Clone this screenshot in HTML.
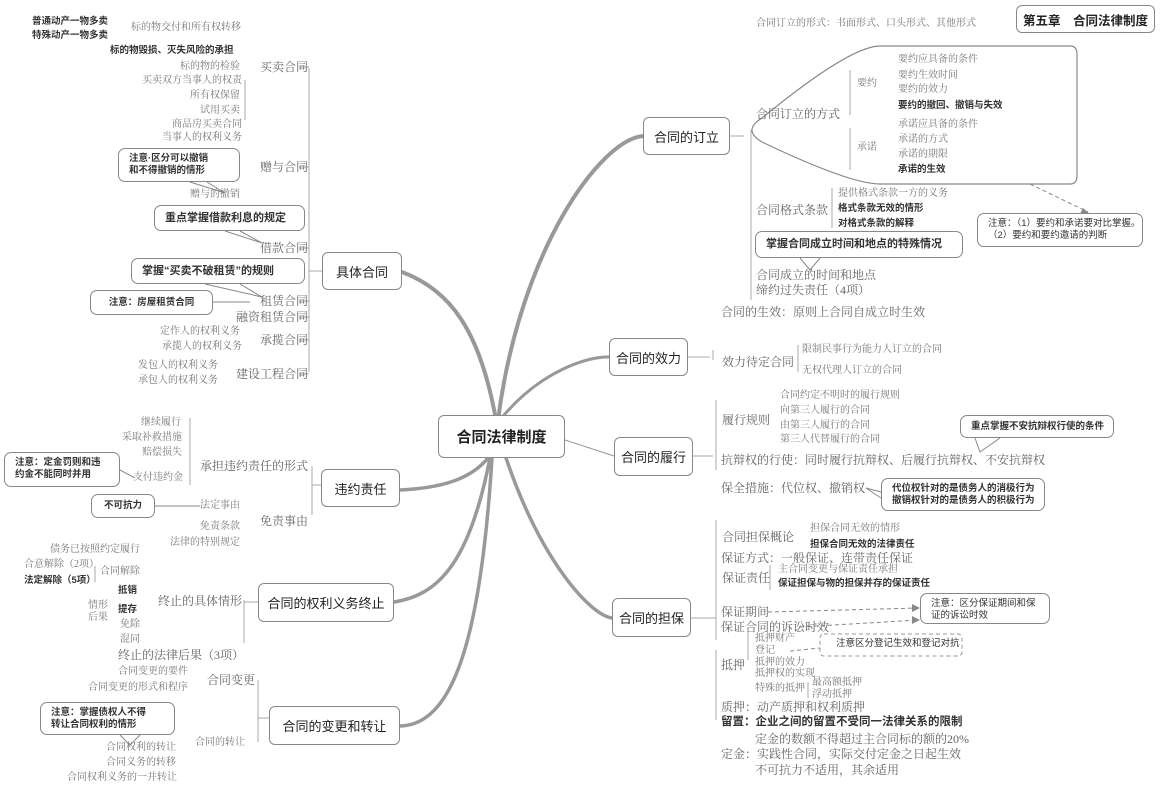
<!DOCTYPE html>
<html><head><meta charset="utf-8">
<style>
body{margin:0;width:1161px;height:790px;background:#fff;position:relative;overflow:hidden;font-family:"Liberation Serif","Noto Serif CJK SC","Noto Sans CJK SC",serif;}
.t{position:absolute;font-size:10px;line-height:12px;color:#777;white-space:nowrap;}
.m{font-size:12px;line-height:14px;color:#666;}
.b{font-family:"Liberation Sans","Noto Sans CJK SC",sans-serif;font-weight:bold;color:#333;font-size:9.5px;}
.n{position:absolute;border:1px solid #888;border-radius:6px;background:#fff;font-family:"Liberation Sans","Noto Sans CJK SC",sans-serif;color:#222;display:flex;align-items:center;justify-content:center;font-size:13px;box-sizing:border-box;}
.c{position:absolute;border:1px solid #888;border-radius:7px;background:#fff;font-family:"Liberation Sans","Noto Sans CJK SC",sans-serif;color:#333;font-size:9.5px;font-weight:bold;line-height:12px;box-sizing:border-box;padding:4px 10px;white-space:nowrap;}
svg{position:absolute;left:0;top:0;}
</style></head><body>
<svg width="1161" height="790">
<g fill="none" stroke="#999" stroke-linecap="round">
<path d="M498 420 C520 250 600 140 643 136" stroke-width="4"/>
<path d="M496 420 C480 330 450 290 402 272" stroke-width="4"/>
<path d="M500 420 C540 370 590 356 609 357" stroke-width="3"/>
<path d="M565 440 L614 456" stroke-width="1"/>
<path d="M505 455 C540 560 590 615 612 618" stroke-width="3.5"/>
<path d="M488 458 C470 480 440 488 400 490" stroke-width="3.5"/>
<path d="M490 458 C470 560 440 595 394 602" stroke-width="3.5"/>
<path d="M492 458 C480 650 450 725 400 726" stroke-width="3.5"/>
</g>
<g fill="none" stroke="#aaa" stroke-width="1">
<path d="M309 68 V372 M309 271 H322"/>
<path d="M309 67 h-10 M309 167 h-10 M309 248 h-10 M309 301 h-10 M309 317 h-10 M309 340 h-10 M309 374 h-10"/>
<path d="M245 80 V120 M190 418 V485 M312 466 V515 M312 485 H321 M95 566 V582 M244 600 V643 M258 602 h-14 M258 680 V742 M258 718 h11"/>
<path d="M751 130 V300 M730 136 h14 M713 360 V350 M688 357 h22 M798 345 V372 M716 400 V470 M693 456 h20 M716 520 V640 M716 650 V720 M691 618 h25 M850 70 V115 M850 128 V170 M832 188 V228 M770 565 V590 M748 632 V660 M808 682 V698"/>
</g>
<path d="M880 46 H1070 Q1077 46 1077 54 V176 Q1077 184 1070 184 H880 Q850 184 762 142 Q742 130 762 118 Q850 46 880 46Z" fill="none" stroke="#888" stroke-width="1.2" stroke-linejoin="round"/>
<g fill="none" stroke="#888" stroke-dasharray="4 3">
<path d="M1030 184 L1088 212"/><path d="M768 612 L918 608 M800 627 L918 620 M790 651 L820 648"/>
</g>
<path d="M1083 208 L1090 214 L1080 214Z M912 604 L920 608 L912 612Z M912 616 L920 620 L912 624Z" fill="#888"/>
<rect x="820" y="634" width="142" height="22" rx="4" fill="none" stroke="#999" stroke-dasharray="4 3"/>
<g fill="none" stroke="#888"><path d="M190 182 L225 193 L207 182 M225 231 L262 243 L240 231 M205 284 L262 297 L240 284 M130 302 H250 M120 470 L135 478 M155 506 H200 M120 735 L130 745 L140 735 M800 258 L810 270 L820 258 M975 438 L980 452 L1000 438 M881 492 L866 488 L881 498"/></g>
</svg>

<div class="n" style="left:1016px;top:5px;width:139px;height:28px;font-weight:bold;font-size:12.5px">第五章　合同法律制度</div>
<div class="n" style="left:438px;top:415px;width:127px;height:43px;font-size:15px;font-weight:bold">合同法律制度</div>
<div class="n" style="left:322px;top:252px;width:80px;height:38px">具体合同</div>
<div class="n" style="left:321px;top:469px;width:79px;height:38px">违约责任</div>
<div class="n" style="left:258px;top:583px;width:136px;height:39px">合同的权利义务终止</div>
<div class="n" style="left:269px;top:706px;width:131px;height:39px">合同的变更和转让</div>
<div class="n" style="left:643px;top:117px;width:87px;height:38px">合同的订立</div>
<div class="n" style="left:609px;top:338px;width:79px;height:38px">合同的效力</div>
<div class="n" style="left:614px;top:437px;width:79px;height:39px">合同的履行</div>
<div class="n" style="left:612px;top:598px;width:79px;height:39px">合同的担保</div>

<div class="c" style="left:118px;top:148px;width:122px;height:34px">注意·区分可以撤销<br>和不得撤销的情形</div>
<div class="c" style="left:154px;top:205px;width:151px;height:26px;font-size:11px;padding-top:6px">重点掌握借款利息的规定</div>
<div class="c" style="left:131px;top:258px;width:174px;height:26px;font-size:11px;padding-top:6px">掌握“买卖不破租赁”的规则</div>
<div class="c" style="left:90px;top:290px;width:123px;height:25px;padding-top:6px;text-align:center">注意：房屋租赁合同</div>
<div class="c" style="left:4px;top:452px;width:116px;height:35px">注意：定金罚则和违<br>约金不能同时并用</div>
<div class="c" style="left:91px;top:494px;width:64px;height:24px;padding-top:5px;text-align:center">不可抗力</div>
<div class="c" style="left:40px;top:702px;width:135px;height:33px">注意：掌握债权人不得<br>转让合同权利的情形</div>
<div class="c" style="left:977px;top:213px;width:166px;height:34px;font-weight:normal">注意：（1）要约和承诺要对比掌握。<br>（2）要约和要约邀请的判断</div>
<div class="c" style="left:755px;top:231px;width:208px;height:27px;font-size:11px;padding-top:6px">掌握合同成立时间和地点的特殊情况</div>
<div class="c" style="left:960px;top:415px;width:154px;height:23px;padding-top:5px">重点掌握不安抗辩权行使的条件</div>
<div class="c" style="left:881px;top:478px;width:164px;height:33px">代位权针对的是债务人的消极行为<br>撤销权针对的是债务人的积极行为</div>
<div class="c" style="left:920px;top:593px;width:130px;height:31px;font-weight:normal">注意：区分保证期间和保<br>证的诉讼时效</div>
<div class="t b" style="left:836px;top:638px;font-weight:normal">注意区分登记生效和登记对抗</div>

<div class="t b" style="left:32px;top:16px">普通动产一物多卖</div>
<div class="t b" style="left:32px;top:30px">特殊动产一物多卖</div>
<div class="t" style="left:131px;top:22px">标的物交付和所有权转移</div>
<div class="t b" style="left:110px;top:45px">标的物毁损、灭失风险的承担</div>
<div class="t" style="left:180px;top:61px">标的物的检验</div>
<div class="t m" style="left:260px;top:60px">买卖合同</div>
<div class="t" style="left:142px;top:75px">买卖双方当事人的权责</div>
<div class="t" style="left:190px;top:90px">所有权保留</div>
<div class="t" style="left:200px;top:105px">试用买卖</div>
<div class="t" style="left:172px;top:119px">商品房买卖合同</div>
<div class="t" style="left:162px;top:132px">当事人的权利义务</div>
<div class="t m" style="left:260px;top:160px">赠与合同</div>
<div class="t" style="left:190px;top:189px">赠与的撤销</div>
<div class="t m" style="left:260px;top:241px">借款合同</div>
<div class="t m" style="left:260px;top:294px">租赁合同</div>
<div class="t m" style="left:236px;top:310px">融资租赁合同</div>
<div class="t" style="left:160px;top:326px">定作人的权利义务</div>
<div class="t" style="left:162px;top:341px">承揽人的权利义务</div>
<div class="t m" style="left:260px;top:333px">承揽合同</div>
<div class="t" style="left:138px;top:360px">发包人的权利义务</div>
<div class="t" style="left:138px;top:375px">承包人的权利义务</div>
<div class="t m" style="left:236px;top:367px">建设工程合同</div>

<div class="t" style="left:141px;top:417px">继续履行</div>
<div class="t" style="left:122px;top:432px">采取补救措施</div>
<div class="t" style="left:142px;top:447px">赔偿损失</div>
<div class="t" style="left:133px;top:472px">支付违约金</div>
<div class="t m" style="left:200px;top:459px">承担违约责任的形式</div>
<div class="t" style="left:200px;top:500px">法定事由</div>
<div class="t m" style="left:260px;top:514px">免责事由</div>
<div class="t" style="left:200px;top:521px">免责条款</div>
<div class="t" style="left:170px;top:537px">法律的特别规定</div>
<div class="t" style="left:50px;top:544px">债务已按照约定履行</div>
<div class="t" style="left:24px;top:559px">合意解除（2项）</div>
<div class="t b" style="left:24px;top:575px">法定解除（5项）</div>
<div class="t" style="left:100px;top:566px">合同解除</div>
<div class="t b" style="left:118px;top:585px">抵销</div>
<div class="t b" style="left:118px;top:604px">提存</div>
<div class="t" style="left:88px;top:600px">情形<br>后果</div>
<div class="t" style="left:120px;top:619px">免除</div>
<div class="t" style="left:120px;top:634px">混同</div>
<div class="t m" style="left:158px;top:594px">终止的具体情形</div>
<div class="t m" style="left:118px;top:648px">终止的法律后果（3项）</div>
<div class="t" style="left:118px;top:666px">合同变更的要件</div>
<div class="t" style="left:88px;top:682px">合同变更的形式和程序</div>
<div class="t m" style="left:207px;top:673px">合同变更</div>
<div class="t" style="left:195px;top:737px">合同的转让</div>
<div class="t" style="left:106px;top:742px">合同权利的转让</div>
<div class="t" style="left:106px;top:757px">合同义务的转移</div>
<div class="t" style="left:67px;top:772px">合同权利义务的一并转让</div>

<div class="t" style="left:756px;top:18px">合同订立的形式：书面形式、口头形式、其他形式</div>
<div class="t m" style="left:756px;top:107px">合同订立的方式</div>
<div class="t" style="left:857px;top:78px">要约</div>
<div class="t" style="left:898px;top:54px">要约应具备的条件</div>
<div class="t" style="left:898px;top:70px">要约生效时间</div>
<div class="t" style="left:898px;top:84px">要约的效力</div>
<div class="t b" style="left:898px;top:100px">要约的撤回、撤销与失效</div>
<div class="t" style="left:857px;top:142px">承诺</div>
<div class="t" style="left:898px;top:119px">承诺应具备的条件</div>
<div class="t" style="left:898px;top:134px">承诺的方式</div>
<div class="t" style="left:898px;top:149px">承诺的期限</div>
<div class="t b" style="left:898px;top:164px">承诺的生效</div>
<div class="t m" style="left:756px;top:203px">合同格式条款</div>
<div class="t" style="left:838px;top:188px">提供格式条款一方的义务</div>
<div class="t b" style="left:838px;top:203px">格式条款无效的情形</div>
<div class="t b" style="left:838px;top:218px">对格式条款的解释</div>
<div class="t m" style="left:756px;top:268px">合同成立的时间和地点</div>
<div class="t m" style="left:756px;top:283px">缔约过失责任（4项）</div>
<div class="t m" style="left:721px;top:305px">合同的生效：原则上合同自成立时生效</div>
<div class="t m" style="left:722px;top:355px">效力待定合同</div>
<div class="t" style="left:802px;top:344px">限制民事行为能力人订立的合同</div>
<div class="t" style="left:802px;top:365px">无权代理人订立的合同</div>

<div class="t" style="left:780px;top:390px">合同约定不明时的履行规则</div>
<div class="t" style="left:780px;top:405px">向第三人履行的合同</div>
<div class="t" style="left:780px;top:420px">由第三人履行的合同</div>
<div class="t" style="left:780px;top:434px">第三人代替履行的合同</div>
<div class="t m" style="left:722px;top:413px">履行规则</div>
<div class="t m" style="left:721px;top:453px">抗辩权的行使：同时履行抗辩权、后履行抗辩权、不安抗辩权</div>
<div class="t m" style="left:721px;top:481px">保全措施：代位权、撤销权</div>
<div class="t m" style="left:722px;top:530px">合同担保概论</div>
<div class="t" style="left:810px;top:523px">担保合同无效的情形</div>
<div class="t b" style="left:810px;top:539px">担保合同无效的法律责任</div>
<div class="t m" style="left:721px;top:551px">保证方式：一般保证、连带责任保证</div>
<div class="t m" style="left:722px;top:571px">保证责任</div>
<div class="t" style="left:778px;top:564px">主合同变更与保证责任承担</div>
<div class="t b" style="left:778px;top:578px">保证担保与物的担保并存的保证责任</div>
<div class="t m" style="left:721px;top:605px">保证期间</div>
<div class="t m" style="left:721px;top:620px">保证合同的诉讼时效</div>
<div class="t" style="left:755px;top:633px">抵押财产</div>
<div class="t" style="left:755px;top:645px">登记</div>
<div class="t m" style="left:721px;top:658px">抵押</div>
<div class="t" style="left:755px;top:657px">抵押的效力</div>
<div class="t" style="left:755px;top:668px">抵押权的实现</div>
<div class="t" style="left:755px;top:683px">特殊的抵押</div>
<div class="t" style="left:812px;top:677px">最高额抵押</div>
<div class="t" style="left:812px;top:689px">浮动抵押</div>
<div class="t m" style="left:721px;top:700px">质押：动产质押和权利质押</div>
<div class="t m b" style="left:721px;top:715px;font-size:11.5px">留置：企业之间的留置不受同一法律关系的限制</div>
<div class="t m" style="left:755px;top:732px">定金的数额不得超过主合同标的额的20%</div>
<div class="t m" style="left:721px;top:747px">定金：实践性合同，实际交付定金之日起生效</div>
<div class="t m" style="left:755px;top:763px">不可抗力不适用，其余适用</div>
</body></html>
